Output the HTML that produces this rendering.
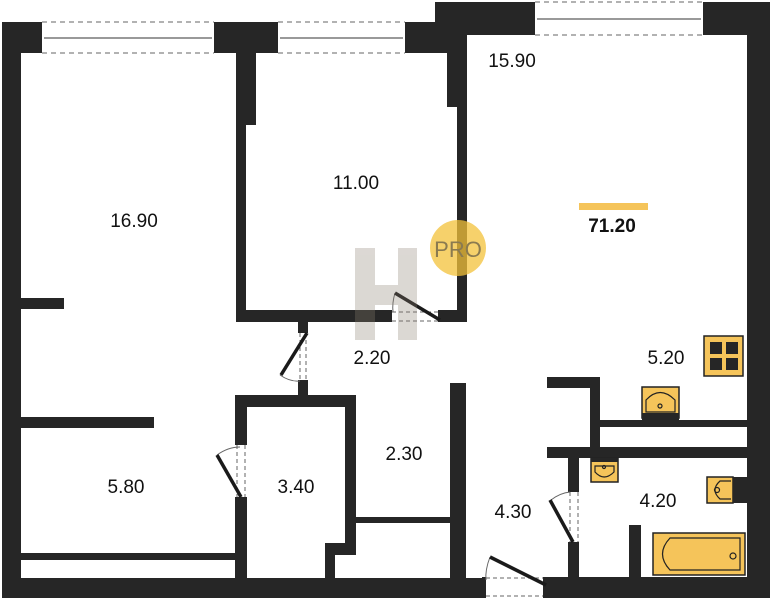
<!DOCTYPE html>
<html><head><meta charset="utf-8"><style>
html,body{margin:0;padding:0;background:#fff;}
svg{display:block;}
text{font-family:"Liberation Sans",sans-serif;fill:#111;}
</style></head><body>
<svg width="772" height="600" viewBox="0 0 772 600" xmlns="http://www.w3.org/2000/svg">
<g fill="#262626">
<rect x="2" y="22" width="19" height="576"/>
<rect x="2" y="578" width="480" height="20"/>
<rect x="547" y="577" width="223" height="21"/>
<rect x="747" y="2" width="23" height="596"/>
<rect x="2" y="22" width="40" height="31"/>
<rect x="214" y="22" width="64" height="31"/>
<rect x="236" y="22" width="20" height="103"/>
<rect x="236" y="22" width="10" height="300"/>
<rect x="405" y="22" width="62" height="31"/>
<rect x="435" y="2" width="100" height="33"/>
<rect x="703" y="2" width="67" height="33"/>
<rect x="447" y="22" width="20" height="85"/>
<rect x="457" y="22" width="10" height="300"/>
<rect x="236" y="310" width="156" height="12"/>
<rect x="438" y="310" width="29" height="12"/>
<rect x="21" y="298" width="43" height="11"/>
<rect x="298" y="320" width="10" height="13"/>
<rect x="298" y="380" width="10" height="16"/>
<rect x="235" y="395" width="121" height="12"/>
<rect x="235" y="395" width="12" height="50"/>
<rect x="235" y="497" width="12" height="81"/>
<rect x="345" y="395" width="11" height="160"/>
<rect x="325" y="543" width="31" height="12"/>
<rect x="325" y="543" width="10" height="35"/>
<rect x="21" y="417" width="133" height="11"/>
<rect x="21" y="553" width="214" height="7"/>
<rect x="356" y="517" width="94" height="6"/>
<rect x="450" y="383" width="16" height="195"/>
<rect x="547" y="377" width="53" height="11"/>
<rect x="590" y="377" width="10" height="73"/>
<rect x="600" y="420" width="147" height="7"/>
<rect x="547" y="447" width="200" height="11"/>
<rect x="568" y="458" width="11" height="34"/>
<rect x="568" y="542" width="11" height="36"/>
<rect x="629" y="525" width="12" height="53"/>
<rect x="482" y="577" width="4" height="21"/>
<rect x="543" y="577" width="4" height="21"/>
</g>
<g stroke="#666" stroke-width="1" fill="none">
<line x1="42" y1="22" x2="214" y2="22" stroke-dasharray="5,4"/>
<line x1="42" y1="53" x2="214" y2="53" stroke-dasharray="5,4"/>
<line x1="44" y1="38" x2="212" y2="38" stroke="#333"/>
<line x1="278" y1="22" x2="405" y2="22" stroke-dasharray="5,4"/>
<line x1="278" y1="53" x2="405" y2="53" stroke-dasharray="5,4"/>
<line x1="280" y1="38" x2="403" y2="38" stroke="#333"/>
<line x1="535" y1="2" x2="703" y2="2" stroke-dasharray="5,4"/>
<line x1="535" y1="35" x2="703" y2="35" stroke-dasharray="5,4"/>
<line x1="537" y1="19" x2="701" y2="19" stroke="#333"/>
<line x1="300" y1="333" x2="300" y2="380" stroke-dasharray="4,3"/>
<line x1="306" y1="333" x2="306" y2="380" stroke-dasharray="4,3"/>
<line x1="237" y1="445" x2="237" y2="497" stroke-dasharray="4,3"/>
<line x1="245" y1="445" x2="245" y2="497" stroke-dasharray="4,3"/>
<line x1="392" y1="312" x2="438" y2="312" stroke-dasharray="4,3"/>
<line x1="392" y1="321" x2="438" y2="321" stroke-dasharray="4,3"/>
<line x1="570" y1="492" x2="570" y2="542" stroke-dasharray="4,3"/>
<line x1="578" y1="492" x2="578" y2="542" stroke-dasharray="4,3"/>
<line x1="486" y1="578" x2="543" y2="578" stroke-dasharray="4,3"/>
<line x1="486" y1="596" x2="543" y2="596" stroke-dasharray="4,3"/>
<path d="M280 375 Q290 382 300 381"/>
<path d="M217 455 Q228 447 240 447"/>
<path d="M490 557 Q485 570 486 580"/>
<path d="M551 500 Q560 493 570 492"/>
<path d="M395 293 Q392 303 393 312"/>
</g>
<g stroke="#1a1a1a" stroke-width="3.5">
<line x1="307" y1="333" x2="281" y2="375"/>
<line x1="241" y1="497" x2="217" y2="455"/>
<line x1="395" y1="293" x2="440" y2="320"/>
<line x1="573" y1="542" x2="550" y2="500"/>
<line x1="490" y1="557" x2="546" y2="585"/>
</g>
<g opacity="0.3">
<rect x="355" y="248" width="20" height="92" fill="#8a7f70"/>
<rect x="398" y="248" width="19" height="92" fill="#8a7f70"/>
<rect x="375" y="285" width="23" height="20" fill="#8a7f70"/>
</g>
<circle cx="458" cy="248" r="28" fill="#f3c13a" opacity="0.75"/>
<text x="458" y="257" font-size="22" text-anchor="middle" style="fill:#8a7a50">PRO</text>
<g fill="#f5c45a" stroke="#222" stroke-width="1.5">
<rect x="704" y="336" width="39" height="40"/>
<rect x="642" y="387" width="37" height="31"/>
<rect x="591" y="458" width="27" height="24"/>
<rect x="707" y="477" width="26" height="26"/>
<rect x="653" y="533" width="92" height="42"/>
</g>
<g fill="#262626">
<rect x="710" y="342" width="12" height="12"/><rect x="726" y="342" width="12" height="12"/>
<rect x="710" y="358" width="12" height="12"/><rect x="726" y="358" width="12" height="12"/>
<rect x="733" y="477" width="14" height="26"/>
<rect x="642" y="413" width="37" height="7"/>
<rect x="591" y="458" width="27" height="4"/>
</g>
<g fill="none" stroke="#222" stroke-width="1.2">
<path d="M646 412 V400 Q660 385 675 400 V412 Z"/>
<circle cx="660" cy="406" r="2"/>
<path d="M595 466 V472 Q604 482 614 472 V466 Z"/>
<circle cx="604" cy="467" r="1.5"/>
<path d="M731 481 H720 Q710 490 720 499 H731"/>
<circle cx="717" cy="490" r="2.5"/>
<path d="M740 538 H670 Q655 554 670 570 H740 Z"/>
<circle cx="733" cy="556" r="3"/>
</g>
<rect x="579" y="203" width="69" height="7" fill="#f5c45a"/>
<g font-size="19">
<text x="512" y="67" text-anchor="middle">15.90</text>
<text x="134" y="227" text-anchor="middle">16.90</text>
<text x="356" y="189" text-anchor="middle">11.00</text>
<text x="372" y="364" text-anchor="middle">2.20</text>
<text x="126" y="493" text-anchor="middle">5.80</text>
<text x="296" y="493" text-anchor="middle">3.40</text>
<text x="404" y="460" text-anchor="middle">2.30</text>
<text x="513" y="518" text-anchor="middle">4.30</text>
<text x="658" y="507" text-anchor="middle">4.20</text>
<text x="666" y="364" text-anchor="middle">5.20</text>
<text x="612" y="232" text-anchor="middle" font-weight="bold">71.20</text>
</g>
</svg>
</body></html>
